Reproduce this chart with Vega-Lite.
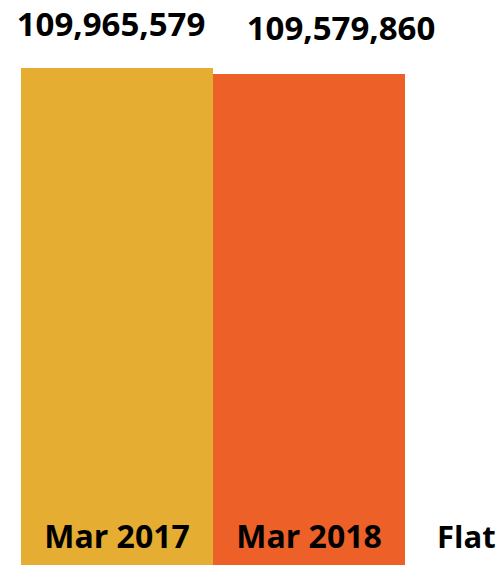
{
  "$schema": "https://vega.github.io/schema/vega-lite/v6.json",
  "width": 576,
  "height": 565,
  "autosize": {"type": "none"},
  "padding": {"left": 21, "top": 0, "right": 0, "bottom": 0},
  "background": "white",
  "config": {"view": {"stroke": null}, "font": "Open Sans"},
  "data": {"values": [
    {"period": "Mar 2017", "value": 109965579},
    {"period": "Mar 2018", "value": 109579860}
  ]},
  "encoding": {
    "x": {"field": "period", "type": "nominal", "scale": {"domain": ["Mar 2017", "Mar 2018", "Flat"], "paddingInner": 0, "paddingOuter": 0}, "axis": null}
  },
  "layer": [
    {
      "mark": {"type": "bar", "clip": true},
      "encoding": {
        "y": {"field": "value", "type": "quantitative", "scale": {"domain": [78000000, 114340000], "zero": false, "nice": false}, "axis": null},
        "color": {"field": "period", "type": "nominal", "scale": {"domain": ["Mar 2017", "Mar 2018"], "range": ["#E5AD32", "#ED6027"]}, "legend": null}
      }
    },
    {
      "transform": [{"filter": "datum.period === 'Mar 2017'"}],
      "mark": {"type": "text", "align": "center", "baseline": "alphabetic", "dx": -6, "dy": -32, "fontSize": 33, "fontWeight": "bold", "color": "#000"},
      "encoding": {
        "y": {"field": "value", "type": "quantitative"},
        "text": {"field": "value", "type": "quantitative", "format": ","}
      }
    },
    {
      "transform": [{"filter": "datum.period === 'Mar 2018'"}],
      "mark": {"type": "text", "align": "center", "baseline": "alphabetic", "dx": 32, "dy": -34, "fontSize": 33, "fontWeight": "bold", "color": "#000"},
      "encoding": {
        "y": {"field": "value", "type": "quantitative"},
        "text": {"field": "value", "type": "quantitative", "format": ","}
      }
    },
    {
      "mark": {"type": "text", "align": "center", "baseline": "alphabetic", "dy": -17, "fontSize": 32, "fontWeight": "bold", "color": "#000"},
      "encoding": {
        "y": {"datum": 78000000, "type": "quantitative"},
        "text": {"field": "period", "type": "nominal"}
      }
    },
    {
      "data": {"values": [{"label": "Flat"}]},
      "mark": {"type": "text", "align": "left", "baseline": "alphabetic", "dx": 32, "dy": -17, "fontSize": 31, "fontWeight": "bold", "color": "#000"},
      "encoding": {
        "x": {"datum": "Flat", "type": "nominal", "bandPosition": 0},
        "y": {"datum": 78000000, "type": "quantitative"},
        "text": {"field": "label", "type": "nominal"}
      }
    }
  ]
}
